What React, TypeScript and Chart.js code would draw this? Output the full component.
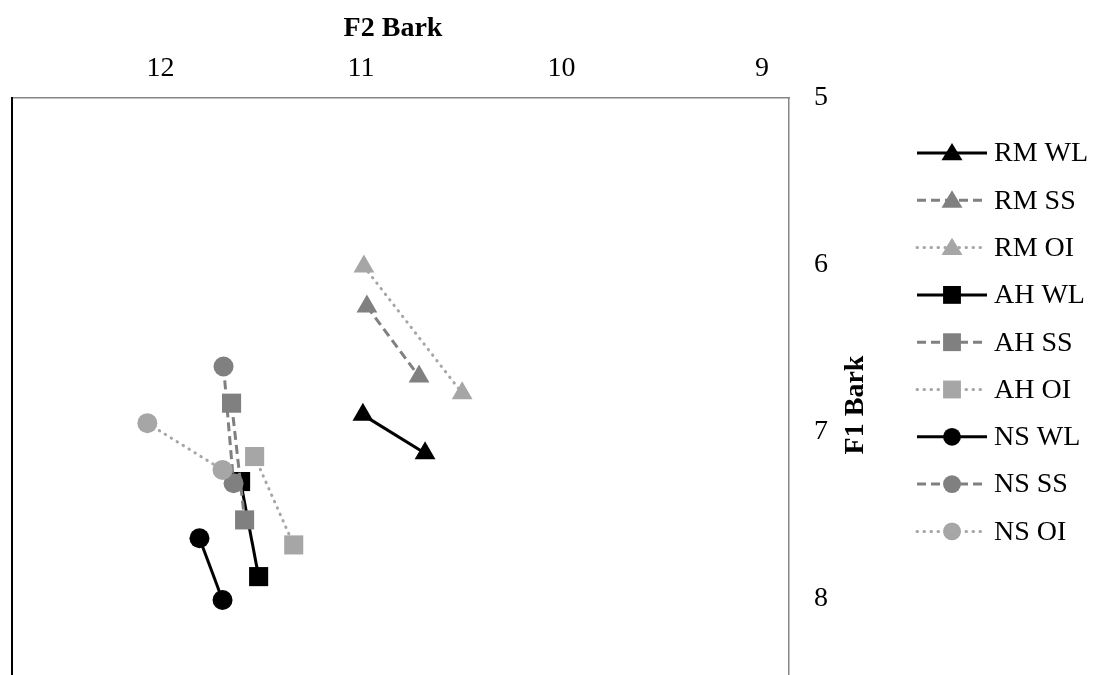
import React, { useEffect, useRef } from 'react';
import { Chart, registerables } from 'chart.js';

Chart.register(...registerables);

// Series names (legend order)
const seriesNames = ['RM WL', 'RM SS', 'RM OI', 'AH WL', 'AH SS', 'AH OI', 'NS WL', 'NS SS', 'NS OI'];

// F2 Bark (x) and F1 Bark (y) values per series
const rmWL_F2 = [10.99, 10.68];
const rmWL_F1 = [6.9, 7.13];
const rmSS_F2 = [10.97, 10.71];
const rmSS_F1 = [6.25, 6.67];
const rmOI_F2 = [10.985, 10.495];
const rmOI_F1 = [6.01, 6.77];
const ahWL_F2 = [11.6, 11.51];
const ahWL_F1 = [7.3, 7.87];
const ahSS_F2 = [11.645, 11.58];
const ahSS_F1 = [6.83, 7.53];
const ahOI_F2 = [11.53, 11.335];
const ahOI_F1 = [7.15, 7.68];
const nsWL_F2 = [11.805, 11.69];
const nsWL_F1 = [7.64, 8.01];
const nsSS_F2 = [11.685, 11.635];
const nsSS_F1 = [6.61, 7.31];
const nsOI_F2 = [12.065, 11.69];
const nsOI_F1 = [6.95, 7.23];

const xTickValues = [9, 10, 11, 12];
const yTickValues = [5, 6, 7, 8];

const xAxisTitle = 'F2 Bark';
const yAxisTitle = 'F1 Bark';

const seriesF2 = [rmWL_F2, rmSS_F2, rmOI_F2, ahWL_F2, ahSS_F2, ahOI_F2, nsWL_F2, nsSS_F2, nsOI_F2];
const seriesF1 = [rmWL_F1, rmSS_F1, rmOI_F1, ahWL_F1, ahSS_F1, ahOI_F1, nsWL_F1, nsSS_F1, nsOI_F1];

const SERIF = '"Liberation Serif", "Times New Roman", serif';
const BLACK = '#000000';
const DARK = '#808080';
const LIGHT = '#a6a6a6';

const colorFor = (i: number) => [BLACK, DARK, LIGHT][i % 3];
const shapeFor = (i: number) => ['triangle', 'rect', 'circle'][Math.floor(i / 3)];
const dashFor = (i: number) => [[], [9, 5], [0.5, 6.5]][i % 3];
const capFor = (i: number) => (i % 3 === 2 ? 'round' : 'butt');
const radiusFor = (shape: string) => (shape === 'triangle' ? 12 : shape === 'rect' ? 13.5 : 10);

function drawMarker(ctx: CanvasRenderingContext2D, shape: string, x: number, y: number, r: number, color: string) {
  ctx.save();
  ctx.fillStyle = color;
  ctx.beginPath();
  if (shape === 'triangle') {
    const w = r * 1.0;
    ctx.moveTo(x, y - r * 0.95);
    ctx.lineTo(x + w, y + r * 0.7);
    ctx.lineTo(x - w, y + r * 0.7);
    ctx.closePath();
  } else if (shape === 'rect') {
    ctx.rect(x - r * 0.85, y - r * 0.85, r * 1.7, r * 1.7);
  } else {
    ctx.arc(x, y, r * 0.85, 0, Math.PI * 2);
  }
  ctx.fill();
  ctx.restore();
}

const decorPlugin = {
  id: 'decor',
  afterDraw(chart: any) {
    const ctx: CanvasRenderingContext2D = chart.ctx;
    const area = chart.chartArea;
    ctx.save();
    // left axis line (black)
    ctx.strokeStyle = BLACK;
    ctx.lineWidth = 2;
    ctx.beginPath();
    ctx.moveTo(area.left, area.top - 1);
    ctx.lineTo(area.left, area.bottom);
    ctx.stroke();

    // axis titles
    ctx.fillStyle = BLACK;
    ctx.font = `bold 28px ${SERIF}`;
    ctx.textAlign = 'center';
    ctx.textBaseline = 'middle';
    ctx.fillText(xAxisTitle, 393, 29);
    ctx.save();
    ctx.translate(856, 405);
    ctx.rotate(-Math.PI / 2);
    ctx.fillText(yAxisTitle, 0, 0);
    ctx.restore();

    // legend
    const top = 153;
    const step = 47.3;
    chart.data.datasets.forEach((ds: any, i: number) => {
      const y = top + i * step;
      ctx.save();
      ctx.strokeStyle = ds.borderColor;
      ctx.lineWidth = 3;
      ctx.lineCap = ds.borderCapStyle;
      ctx.setLineDash(ds.borderDash);
      ctx.beginPath();
      ctx.moveTo(917, y);
      ctx.lineTo(987, y);
      ctx.stroke();
      ctx.restore();
      drawMarker(ctx, ds.pointStyle, 952, y, 10.5, ds.pointBackgroundColor);
      ctx.fillStyle = BLACK;
      ctx.font = `28px ${SERIF}`;
      ctx.textAlign = 'left';
      ctx.textBaseline = 'middle';
      ctx.fillText(ds.label, 994, y + 1);
    });
    ctx.restore();
  },
};

export default function App() {
  const canvasRef = useRef<HTMLCanvasElement | null>(null);

  useEffect(() => {
    if (!canvasRef.current) return;
    const datasets = seriesNames.map((name, i) => {
      const shape = shapeFor(i);
      const color = colorFor(i);
      return {
        label: name,
        data: seriesF2[i].map((x, k) => ({ x, y: seriesF1[i][k] })),
        showLine: true,
        borderColor: color,
        backgroundColor: color,
        borderWidth: 3,
        borderDash: dashFor(i),
        borderCapStyle: capFor(i),
        pointStyle: shape,
        pointRadius: radiusFor(shape),
        pointBackgroundColor: color,
        pointBorderColor: color,
        pointBorderWidth: 0,
        order: -i,
      };
    });

    const chart = new Chart(canvasRef.current, {
      type: 'scatter',
      data: { datasets },
      options: {
        animation: false,
        responsive: true,
        maintainAspectRatio: false,
        layout: { autoPadding: false, padding: { left: 12, top: 0, right: 0, bottom: 0 } },
        plugins: { legend: { display: false }, tooltip: { enabled: false } },
        scales: {
          x: {
            type: 'linear',
            position: 'top',
            reverse: true,
            min: 8.865,
            max: 12.74,
            afterBuildTicks: (s: any) => {
              s.ticks = xTickValues.map((v) => ({ value: v }));
            },
            afterFit: (s: any) => {
              s.height = 98;
              s.paddingLeft = 0;
              s.paddingRight = 0;
            },
            ticks: {
              font: { family: SERIF, size: 28 },
              color: BLACK,
              padding: 13,
              maxRotation: 0,
              callback: (v: any) => String(v),
            },
            grid: { display: false, drawTicks: false },
            border: { display: true, color: '#868686', width: 1.5 },
          },
          y: {
            type: 'linear',
            position: 'right',
            reverse: true,
            min: 5,
            max: 8.46,
            afterBuildTicks: (s: any) => {
              s.ticks = yTickValues.map((v) => ({ value: v }));
            },
            afterFit: (s: any) => {
              s.width = 305;
              s.paddingTop = 0;
              s.paddingBottom = 0;
            },
            ticks: {
              font: { family: SERIF, size: 28 },
              color: BLACK,
              padding: 25,
              callback: (v: any) => String(v),
            },
            grid: { display: false, drawTicks: false },
            border: { display: true, color: '#868686', width: 1.5 },
          },
        },
      },
      plugins: [decorPlugin],
    } as any);

    return () => chart.destroy();
  }, []);

  return (
    <div style={{ position: 'absolute', left: 0, top: 0, width: 1094, height: 675, background: '#fff' }}>
      <canvas ref={canvasRef} />
    </div>
  );
}
